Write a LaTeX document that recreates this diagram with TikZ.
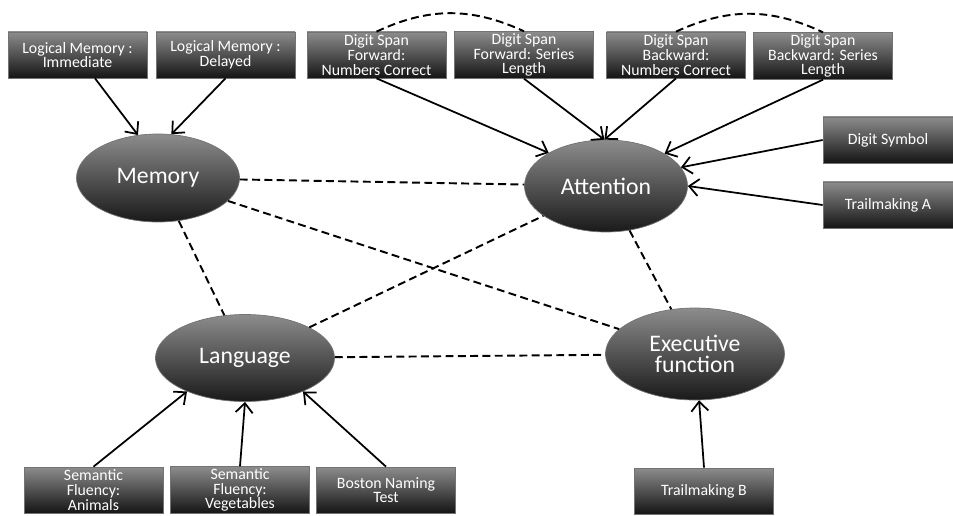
\documentclass[tikz,border=0pt]{standalone}
\usepackage{fontspec}
\setmainfont{Carlito}
\usetikzlibrary{shapes.geometric,arrows.meta}

\tikzset{
  measure/.style={rectangle, draw=black!55, top color=black!45, bottom color=black!92,
    text=white, align=center, inner sep=1pt, minimum width=2.78cm, minimum height=0.92cm,
    font=\fontsize{9}{8.4}\selectfont},
  factor/.style={ellipse, draw=black!55, top color=black!45, bottom color=black!90,
    text=white, align=center, inner sep=0pt, font=\fontsize{13.5}{12}\selectfont},
  feed/.style={-{Straight Barb[length=1.9mm,width=3.4mm]}, line width=1pt},
  link/.style={line width=1.1pt, dash pattern=on 4.5pt off 2.5pt}
}

\begin{document}
\begin{tikzpicture}
            \useasboundingbox (0,0) rectangle (19.06,10.30);

            \begin{scope}[every node/.style={measure}]
                \node (LMI) at (1.55,9.20) {Logical Memory :\\Immediate};
                \node (LMD) at (4.51,9.20) {Logical Memory :\\Delayed};

                \node (DSFN) at (7.53,9.20) {Digit Span\\Forward:\\Numbers Correct};
                \node (DSFS) at (10.48,9.20) {Digit Span\\Forward: Series\\Length};
                \node (DSBN) at (13.52,9.20) {Digit Span\\Backward:\\Numbers Correct};
                \node (DSBS) at (16.46,9.18) {Digit Span\\Backward: Series\\Length};

                \node[minimum width=2.6cm] (DS) at (17.76,7.50) {Digit Symbol};
                \node[minimum width=2.6cm] (TMA) at (17.76,6.20) {Trailmaking A};

                \node (SFA) at (1.87,0.50) {Semantic\\Fluency:\\Animals};
                \node (SFV) at (4.80,0.50) {Semantic\\Fluency:\\Vegetables};
                \node (BNT) at (7.72,0.50) {Boston Naming\\Test};

                \node (TMB) at (14.08,0.48) {Trailmaking B};
            \end{scope}

            \begin{scope}[every node/.style={factor}]
                \node[minimum width=3.26cm, minimum height=1.76cm] (Memory) at (3.16,6.74) {Memory};
                \node[minimum width=3.26cm, minimum height=1.84cm] (Attention) at (12.12,6.58) {Attention};
                \node[minimum width=3.58cm, minimum height=1.74cm] (Language) at (4.90,3.14) {Language};
                \node[minimum width=3.58cm, minimum height=1.84cm] (Executive) at (13.90,3.22) {Executive\\function};
            \end{scope}

            \begin{scope}
                \path [feed] ([xshift=0.35cm]LMI.south) edge (Memory.115);
                \path [feed] (LMD.south) edge (Memory.73);

                \path [feed] (DSFN.south) edge (Attention.150);
                \path [feed] (DSFS.south) edge (Attention.92);
                \path [feed] (DSBN.south) edge (Attention.92);
                \path [feed] (DSBS.south) edge (Attention.29);
                \path [feed] (DS.west) edge (Attention.14);
                \path [feed] (TMA.west) edge (Attention.east);

                \path [feed] (SFA.north) edge (Language.210);
                \path [feed] (SFV.north) edge (Language.south);
                \path [feed] (BNT.north) edge (Language.330);

                \path [feed] (TMB.north) edge (Executive.275);
            \end{scope}

            \begin{scope}
                \path [link] (Memory) edge (Attention);
                \path [link] (Memory) edge (Executive);
                \path [link] (Memory) edge (Language);
                \path [link] (Language) edge (Attention);
                \path [link] (Language) edge (Executive);
                \path [link] (Attention) edge (Executive);

                \path [link] (DSFN.north) edge[bend left=25] (DSFS.north);
                \path [link] (DSBN.north) edge[bend left=25] (DSBS.north);
            \end{scope}
            \end{tikzpicture}
\end{document}
